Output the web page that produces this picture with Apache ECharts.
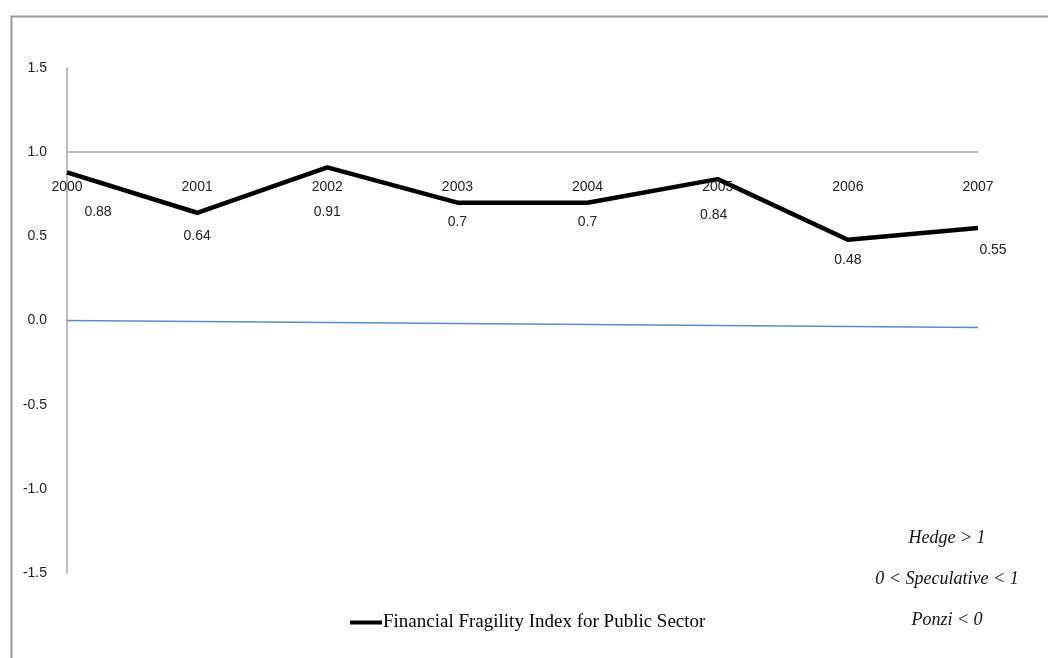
<!DOCTYPE html>
<html>
<head>
<meta charset="utf-8">
<script src="https://cdn.jsdelivr.net/npm/echarts@6/dist/echarts.min.js"></script>
<style>
  html, body { margin: 0; padding: 0; background: #fff; }
  #chart { width: 1048px; height: 658px; }
</style>
</head>
<body>
<div id="chart"></div>
<script>
const years = ['2000', '2001', '2002', '2003', '2004', '2005', '2006', '2007']
const fragility = [0.88, 0.64, 0.91, 0.7, 0.7, 0.84, 0.48, 0.55]
const zeroLine = [0, -0.006, -0.012, -0.018, -0.024, -0.03, -0.036, -0.042]
const yTicks = [-1.5, -1.0, -0.5, 0.0, 0.5, 1.0, 1.5]
const notes = ['Hedge > 1', '0 < Speculative < 1', 'Ponzi < 0']

// label nudges, excel-style placement
const labelShift = [[31, 26], [0, 9], [0, 31], [0, 5], [0, 5], [-4, 22], [0, 6], [15, 8]]

const chart = echarts.init(document.getElementById('chart'))

const option = {
  backgroundColor: '#fff',
  animation: false,
  grid: { left: 67, right: 70, top: 68, bottom: 85 },
  legend: {
    left: 345,
    top: 608,
    itemWidth: 32,
    itemHeight: 4,
    itemGap: 0,
    icon: 'rect',
    data: ['Financial Fragility Index for Public Sector'],
    textStyle: { fontFamily: 'Liberation Serif', fontSize: 19, color: '#000', padding: [0, 0, 0, -4] }
  },
  xAxis: {
    type: 'category',
    data: years,
    boundaryGap: false,
    position: 'top',
    axisLine: { show: false },
    axisTick: { show: false },
    axisLabel: {
      inside: true,
      margin: 112,
      color: '#222',
      fontFamily: 'Liberation Sans',
      fontSize: 14
    }
  },
  yAxis: {
    type: 'value',
    min: -1.5,
    max: 1.5,
    interval: 0.5,
    axisLine: { show: true, lineStyle: { color: '#a6a6a6', width: 1.5 } },
    axisTick: { show: false },
    splitLine: { show: false },
    axisLabel: {
      margin: 20,
      color: '#222',
      fontFamily: 'Liberation Sans',
      fontSize: 14,
      formatter: v => yTicks.includes(v) ? v.toFixed(1) : ''
    }
  },
  series: [
    {
      name: 'zero',
      type: 'line',
      data: zeroLine,
      symbol: 'none',
      lineStyle: { color: '#5b8ac9', width: 1.5 },
      z: 1
    },
    {
      name: 'Financial Fragility Index for Public Sector',
      type: 'line',
      data: fragility.map((v, i) => ({
        value: v,
        label: { offset: labelShift[i] }
      })),
      symbol: 'circle',
      symbolSize: 0,
      showSymbol: true,
      color: '#000',
      lineStyle: { color: '#000', width: 4.5 },
      label: {
        show: true,
        position: 'bottom',
        distance: 7,
        color: '#222',
        fontFamily: 'Liberation Sans',
        fontSize: 14
      },
      markLine: {
        silent: true,
        symbol: 'none',
        label: { show: false },
        lineStyle: { color: '#a6a6a6', type: 'solid', width: 1.5 },
        data: [{ yAxis: 1.0 }]
      },
      z: 3
    }
  ],
  graphic: [
    {
      type: 'rect',
      left: 9,
      top: 14,
      shape: { width: 1100, height: 700 },
      style: { fill: 'none', stroke: '#999', lineWidth: 2 },
      silent: true
    },
    ...notes.map((t, i) => ({
      type: 'text',
      style: {
        text: t,
        fill: '#111',
        font: 'italic 18px "Liberation Serif"',
        align: 'center',
        verticalAlign: 'middle'
      },
      x: 947,
      y: 538 + i * 41
    }))
  ]
}

chart.setOption(option)
window.addEventListener('resize', () => chart.resize())
</script>
</body>
</html>
